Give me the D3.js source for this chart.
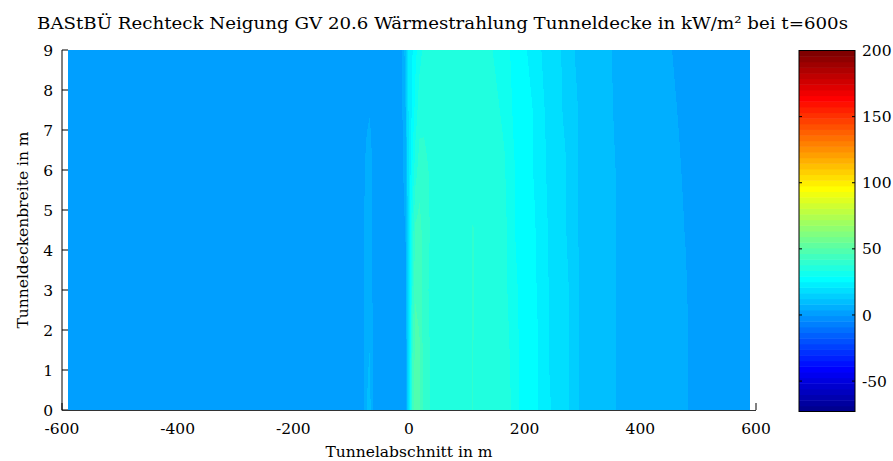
<!DOCTYPE html>
<html>
<head>
<meta charset="utf-8">
<script src="https://cdn.jsdelivr.net/npm/d3@7/dist/d3.min.js"></script>
<style>
  html, body { margin: 0; padding: 0; background: #fff; }
  svg text { font-family: 'DejaVu Serif', serif; fill: #000; }
</style>
</head>
<body>
<svg id="chart" width="893" height="461"></svg>
<script>
// ---------- data ----------
const titleText = "BAStBÜ Rechteck Neigung GV 20.6 Wärmestrahlung Tunneldecke in kW/m² bei t=600s";
const xLabel = "Tunnelabschnitt in m";
const yLabel = "Tunneldeckenbreite in m";
const xTicks = [-600, -400, -200, 0, 200, 400, 600];
const yTicks = [0, 1, 2, 3, 4, 5, 6, 7, 8, 9];
const cTicks = [-50, 0, 50, 100, 150, 200];
const colorLimits = [-73, 200];

// tunnel positions (m) of the grid columns
const positions = [-590, -200, -100, -80, -73, -68, -62, -40, -15, -6, -2, 2, 6, 11, 18, 26, 40, 80, 110, 140, 165, 180, 195, 215, 228, 245, 270, 288, 300, 340, 362, 420, 460, 478, 492, 540, 590];
// ceiling widths (m) of the grid rows
const widths = [0, 1.5, 3, 4.5, 6, 7.5, 9];
// heat radiation (kW/m²), one row per width
const rad_w0   = [2,2,2,2.5,8,10,3,2,1,2,16,28,44,49,47,41,37,36,38,36,36,33,28,27,24,21,18,14,11,10,7.5,6,5,4.2,3,2.5,2];
const rad_w1_5 = [2,2,2,2.5,7,8,3,2,1,2,16,27,42,48,47,40,37,36,38,36,36,32,28,27,24,20,18,14,11,10,7.5,6,5,4.2,3,2.5,2];
const rad_w3   = [2,2,2,2.5,6,7,3,2,1,3,17,26,38,46,45,39,37,36,38,37,35,31,28,26,24,20,18,14,11,10,7.5,6,5,4,3,2.5,2];
const rad_w4_5 = [2,2,2,2.5,6,7,3,2,1,4,18,26,35,43,44,40,37,36,38,37,35,30,27,26,23,20,17,13,11,10,7.5,6,4.5,3.7,3,2.5,2];
const rad_w6   = [2,2,2,2.5,5,6,3,2,1,6,19,24,30,36,40,39,37,36,37,36,34,30,27,25,23,19,17,13,11,10,7.5,6,4.2,3.5,3,2.5,2];
const rad_w7_5 = [2,2,2,2,3,3.5,2,2,1,8,20,23,26,31,36,37,36,36,37,35,33,29,27,25,22,19,16,13,11,9.5,7,5.5,3.9,3.3,3,2.5,2];
const rad_w9   = [2,2,2,2,2.5,2.5,2,2,1,10,21,23,25,28,32,35,35,35,36,34,32,28,26,24,21,18,16,12,10.5,9,7,5,3.6,3.2,2.8,2.5,2];
const radiation = [rad_w0, rad_w1_5, rad_w3, rad_w4_5, rad_w6, rad_w7_5, rad_w9];

// ---------- colormap (MATLAB jet, 64 levels) ----------
const NC = 64;
function jetColor(i) { // i: 1..64
  const u = k => (k >= 1 && k <= 16) ? k / 16 : (k >= 17 && k <= 31) ? 1 : (k >= 32 && k <= 47) ? (48 - k) / 16 : 0;
  const b = u(i + 8), g = u(i - 8), r = u(i - 24);
  return [Math.round(r * 255), Math.round(g * 255), Math.round(b * 255)];
}
function colorIndex(v) {
  let i = Math.floor((v - colorLimits[0]) / (colorLimits[1] - colorLimits[0]) * NC) + 1;
  return Math.max(1, Math.min(NC, i));
}

// ---------- layout ----------
const svg = d3.select("#chart");
const x = d3.scaleLinear().domain([-600, 600]).range([62, 756]);
const y = d3.scaleLinear().domain([0, 9]).range([410, 50]);
const cy = d3.scaleLinear().domain(colorLimits).range([411.5, 50.5]);
const cbX0 = 799, cbX1 = 855;
const tickFont = "15.5px";

// title
svg.append("text")
  .attr("x", 37).attr("y", 29)
  .attr("font-size", "17.5px")
  .attr("textLength", 811).attr("lengthAdjust", "spacingAndGlyphs")
  .text(titleText);

// ticks (below the image)
const tickG = svg.append("g");
tickG.selectAll("line.yt").data(yTicks).join("line")
  .attr("x1", x(-600)).attr("x2", x(-600) + 6)
  .attr("y1", d => y(d)).attr("y2", d => y(d))
  .attr("stroke", "#000").attr("stroke-width", 1);
tickG.selectAll("line.xt").data(xTicks).join("line")
  .attr("x1", d => x(d)).attr("x2", d => x(d))
  .attr("y1", y(0)).attr("y2", y(0) - 7)
  .attr("stroke", "#000").attr("stroke-width", 1);

// ---------- heat map image ----------
const ix0 = Math.round(x(positions[0])), ix1 = Math.round(x(positions[positions.length - 1]));
const iy0 = Math.round(y(widths[widths.length - 1])), iy1 = Math.round(y(widths[0]));
const W = ix1 - ix0, H = iy1 - iy0;
const canvas = document.createElement("canvas");
canvas.width = W; canvas.height = H;
const ctx = canvas.getContext("2d");
const img = ctx.createImageData(W, H);
function interp(arr, idx, t) { return arr[idx] * (1 - t) + arr[idx + 1] * t; }
function locate(list, v) {
  let i = d3.bisectRight(list, v) - 1;
  i = Math.max(0, Math.min(list.length - 2, i));
  let t = (v - list[i]) / (list[i + 1] - list[i]);
  t = Math.max(0, Math.min(1, t));
  return [i, t];
}
for (let py = 0; py < H; py++) {
  const wv = y.invert(iy0 + py + 0.5);
  const [ri, rt] = locate(widths, wv);
  for (let px = 0; px < W; px++) {
    const xv = x.invert(ix0 + px + 0.5);
    const [ci, ct] = locate(positions, xv);
    const v0 = interp(radiation[ri], ci, ct);
    const v1 = interp(radiation[ri + 1], ci, ct);
    const v = v0 * (1 - rt) + v1 * rt;
    const [r, g, b] = jetColor(colorIndex(v));
    const o = (py * W + px) * 4;
    img.data[o] = r; img.data[o + 1] = g; img.data[o + 2] = b; img.data[o + 3] = 255;
  }
}
ctx.putImageData(img, 0, 0);
svg.append("image")
  .attr("x", ix0).attr("y", iy0).attr("width", W).attr("height", H)
  .attr("preserveAspectRatio", "none")
  .attr("href", canvas.toDataURL());

// axis lines
svg.append("line").attr("x1", x(-600)).attr("x2", x(-600)).attr("y1", y(9)).attr("y2", y(0) + 0.5)
  .attr("stroke", "#000").attr("stroke-width", 1);
svg.append("line").attr("x1", x(-600)).attr("x2", x(600)).attr("y1", y(0) + 0.5).attr("y2", y(0) + 0.5)
  .attr("stroke", "#333").attr("stroke-width", 1.2);

// tick labels
svg.selectAll("text.xl").data(xTicks).join("text")
  .attr("class", "xl")
  .attr("x", d => x(d)).attr("y", 434)
  .attr("text-anchor", "middle").attr("font-size", tickFont)
  .text(d => d);
svg.selectAll("text.yl").data(yTicks).join("text")
  .attr("class", "yl")
  .attr("x", 53).attr("y", d => y(d)).attr("dy", "0.36em")
  .attr("text-anchor", "end").attr("font-size", tickFont)
  .text(d => d);

// axis titles
svg.append("text").attr("x", x(0)).attr("y", 457)
  .attr("text-anchor", "middle").attr("font-size", tickFont).text(xLabel);
svg.append("text").attr("transform", `translate(28,${y(4.5)}) rotate(-90)`)
  .attr("text-anchor", "middle").attr("font-size", tickFont).text(yLabel);

// ---------- colorbar ----------
const step = (colorLimits[1] - colorLimits[0]) / NC;
const levels = d3.range(NC);
svg.append("g").selectAll("rect").data(levels).join("rect")
  .attr("x", cbX0).attr("width", cbX1 - cbX0)
  .attr("y", k => cy(colorLimits[0] + (k + 1) * step))
  .attr("height", k => cy(colorLimits[0] + k * step) - cy(colorLimits[0] + (k + 1) * step) + 0.5)
  .attr("fill", k => { const c = jetColor(k + 1); return `rgb(${c[0]},${c[1]},${c[2]})`; });
svg.append("rect").attr("x", cbX0).attr("y", cy(colorLimits[1]))
  .attr("width", cbX1 - cbX0).attr("height", cy(colorLimits[0]) - cy(colorLimits[1]))
  .attr("fill", "none").attr("stroke", "#000").attr("stroke-width", 1);
svg.selectAll("line.cl").data(cTicks).join("line")
  .attr("x1", cbX0).attr("x2", cbX0 + 3).attr("y1", d => cy(d)).attr("y2", d => cy(d))
  .attr("stroke", "#000");
svg.selectAll("line.cr").data(cTicks).join("line")
  .attr("x1", cbX1 - 3).attr("x2", cbX1).attr("y1", d => cy(d)).attr("y2", d => cy(d))
  .attr("stroke", "#000");
svg.selectAll("text.cl").data(cTicks).join("text")
  .attr("class", "cl")
  .attr("x", 862).attr("y", d => cy(d)).attr("dy", "0.36em")
  .attr("font-size", tickFont)
  .text(d => d);
</script>
</body>
</html>
